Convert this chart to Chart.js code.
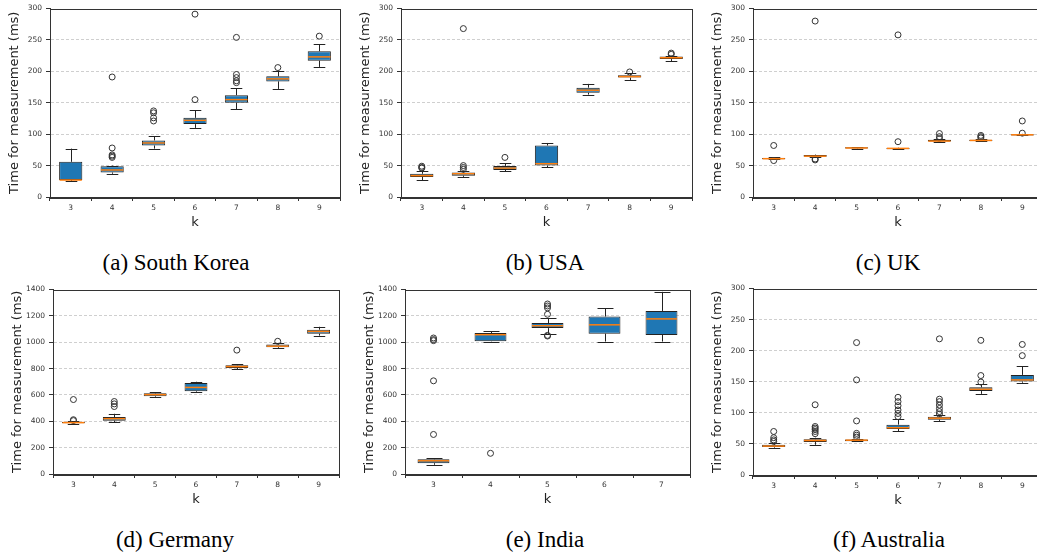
<!DOCTYPE html>
<html>
<head>
<meta charset="utf-8">
<script src="https://cdn.jsdelivr.net/npm/chart.js@4.4.1/dist/chart.umd.min.js"></script>
<style>
  html, body { margin: 0; padding: 0; background: #fff; overflow: hidden; }
  body { width: 1037px; height: 554px; position: relative; }
  .panel { position: absolute; }
  .caption {
    position: absolute; transform: translate(-50%, -50%);
    font-family: 'Liberation Serif', 'Times New Roman', serif; font-size: 23px;
    color: #000; white-space: nowrap;
  }
</style>
</head>
<body>
<div class="caption" style="left:176px; top:263px">(a) South Korea</div>
<div class="caption" style="left:545px; top:263px">(b) USA</div>
<div class="caption" style="left:888px; top:263px">(c) UK</div>
<div class="caption" style="left:175px; top:540px">(d) Germany</div>
<div class="caption" style="left:545px; top:540px">(e) India</div>
<div class="caption" style="left:889px; top:540px">(f) Australia</div>

<script>
const kLabels = ['3', '4', '5', '6', '7', '8', '9'];
const kLabelsIndia = ['3', '4', '5', '6', '7'];

// South Korea
const skLow  = [25, 37, 77, 110, 140, 172, 207];
const skQ1   = [27, 39, 82, 116, 150, 184, 217];
const skMed  = [27, 43, 86, 122, 155, 188, 223];
const skQ3   = [56, 49, 90, 126, 162, 192, 232];
const skHigh = [77, 50, 97, 138, 173, 201, 243];
const skOut  = [[], [191, 78, 67, 65, 63], [137, 134, 126, 121], [291, 155], [254, 195, 190, 185, 182], [206], [256]];

// USA
const usLow  = [27, 32, 41, 47, 163, 186, 216];
const usQ1   = [32, 34, 43, 50, 166, 190, 219.5];
const usMed  = [34, 37, 46, 53, 170, 191.6, 221.6];
const usQ3   = [37, 39, 49.5, 82, 174, 193.6, 223.7];
const usHigh = [42, 41, 54, 86, 180, 197, 225];
const usOut  = [[49, 47, 46], [268, 50, 47, 44], [63], [], [], [199], [229, 227]];

// UK
const ukLow  = [60, 63, 76.5, 76, 88, 89, 98];
const ukQ1   = [60, 64, 77, 76, 88.4, 89, 98];
const ukMed  = [61, 65, 78, 77.4, 89, 90, 99];
const ukQ3   = [62, 66.8, 79, 78, 91, 91, 100];
const ukHigh = [63, 67.5, 79.5, 78.5, 92, 92, 100.5];
const ukOut  = [[82, 58], [280, 60.5, 59], [], [258, 88], [101, 96, 93], [98, 96, 94], [121, 101.6]];

// Germany
const deLow  = [380, 395, 585, 620, 797, 955, 1050];
const deQ1   = [385, 405, 590, 627, 805, 962, 1065];
const deMed  = [390, 420, 602, 657, 815, 970, 1082];
const deQ3   = [395, 432, 612, 690, 825, 982, 1095];
const deHigh = [400, 457, 622, 700, 832, 995, 1117];
const deOut  = [[565, 412, 405], [550, 532, 512], [], [], [940], [1007], []];

// India
const inLow  = [70, 1005, 1065, 1005, 1005];
const inQ1   = [82, 1007, 1107, 1065, 1055];
const inMed  = [100, 1057, 1125, 1132, 1177];
const inQ3   = [112, 1070, 1145, 1195, 1237];
const inHigh = [120, 1082, 1182, 1257, 1382];
const inOut  = [[1032, 1020, 1012, 707, 300], [157], [1290, 1275, 1260, 1212, 1052, 1047], [], []];

// Australia
const auLow  = [44, 48.6, 54, 70.8, 87, 130.5, 148.4];
const auQ1   = [45, 53, 54.4, 74, 89, 135, 150.5];
const auMed  = [46.5, 55.5, 56, 76, 91.4, 138, 153];
const auQ3   = [48.6, 57.6, 57, 81, 93.5, 141, 161];
const auHigh = [51, 60, 58.6, 90, 96.7, 146, 175];
const auOut  = [[70, 60, 56.5, 54], [113, 78, 75.5, 73, 70, 66.5], [213, 153, 87, 67, 64, 61],
                [125, 118, 111.5, 104.6, 99, 94], [219, 122, 118, 112.5, 107, 102, 98], [216.6, 160, 149.5], [210, 192]];

const FONT = "'DejaVu Sans', sans-serif";

function makePanel(p)
{
    const div = document.createElement('div');
    div.className = 'panel';
    const w = p.w + 52, h = p.h + 40;
    div.style.left = (p.left - 50) + 'px';
    div.style.top = (p.top - 7) + 'px';
    div.style.width = w + 'px';
    div.style.height = h + 'px';
    const canvas = document.createElement('canvas');
    canvas.width = w;
    canvas.height = h;
    div.appendChild(canvas);
    document.body.appendChild(div);

    const outliers = [];
    p.out.forEach((vals, i) => vals.forEach(v => outliers.push({x: p.labels[i], y: v})));

    const boxPlugin = {
        id: 'boxExtras',
        beforeDatasetsDraw(chart) {
            const ctx = chart.ctx, xs = chart.scales.x, ys = chart.scales.y;
            const meta = chart.getDatasetMeta(0);
            ctx.save();
            ctx.strokeStyle = '#222';
            ctx.lineWidth = 1;
            p.labels.forEach((l, i) => {
                const x = Math.round(xs.getPixelForValue(i)) + 0.5;
                const half = meta.data[i].width / 4;
                const lines = [[p.q3[i], p.high[i]], [p.q1[i], p.low[i]]];
                lines.forEach(([from, to]) => {
                    const y1 = ys.getPixelForValue(from), y2 = ys.getPixelForValue(to);
                    ctx.beginPath();
                    ctx.moveTo(x, y1);
                    ctx.lineTo(x, y2);
                    ctx.moveTo(x - half, Math.round(y2) + 0.5);
                    ctx.lineTo(x + half, Math.round(y2) + 0.5);
                    ctx.stroke();
                });
            });
            ctx.restore();
        },
        afterDatasetsDraw(chart) {
            const ctx = chart.ctx, xs = chart.scales.x, ys = chart.scales.y;
            const meta = chart.getDatasetMeta(0);
            ctx.save();
            ctx.strokeStyle = '#ff7f0e';
            ctx.lineWidth = 1.5;
            p.labels.forEach((l, i) => {
                const x = xs.getPixelForValue(i);
                const half = meta.data[i].width / 2 - 0.5;
                const y = ys.getPixelForValue(p.med[i]);
                ctx.beginPath();
                ctx.moveTo(x - half, y);
                ctx.lineTo(x + half, y);
                ctx.stroke();
            });
            // frame
            const a = chart.chartArea;
            ctx.strokeStyle = '#333';
            ctx.lineWidth = 1;
            ctx.strokeRect(Math.round(a.left) + 0.5, Math.round(a.top) + 0.5,
                Math.round(a.right - a.left), Math.round(a.bottom - a.top));
            ctx.restore();
        }
    };

    new Chart(canvas.getContext('2d'), {
        type: 'bar',
        data: {
            labels: p.labels,
            datasets: [{
                type: 'bar',
                data: p.q1.map((v, i) => [v, p.q3[i]]),
                backgroundColor: '#1f77b4',
                borderColor: '#222',
                borderWidth: 1,
                borderSkipped: false,
                barPercentage: 0.56,
                categoryPercentage: 1,
                order: 2
            }, {
                type: 'scatter',
                data: outliers,
                pointRadius: 3,
                pointHoverRadius: 3,
                pointBorderWidth: 1,
                borderColor: '#333',
                backgroundColor: 'rgba(0,0,0,0)',
                order: 1
            }]
        },
        options: {
            responsive: false,
            animation: false,
            devicePixelRatio: 1,
            layout: { padding: { top: 7, right: 2, left: 0, bottom: 0 } },
            plugins: { legend: { display: false }, tooltip: { enabled: false } },
            scales: {
                x: {
                    type: 'category',
                    grid: { drawOnChartArea: false, tickLength: 4, tickColor: '#333' },
                    border: { color: '#333' },
                    ticks: { font: { family: FONT, size: 7.5 }, color: '#333', padding: 3 },
                    title: { display: true, text: 'k', font: { family: FONT, size: 13 }, color: '#222', padding: 0 },
                    afterFit: s => { s.height = 33; }
                },
                y: {
                    min: 0,
                    max: p.max,
                    grid: {
                        color: c => (c.tick && (c.tick.value === 0 || c.tick.value === p.max)) ? 'rgba(0,0,0,0)' : '#cfcfcf',
                        tickLength: 4,
                        tickColor: '#333',
                        tickBorderDash: []
                    },
                    border: { color: '#333', dash: [3, 2] },
                    ticks: {
                        stepSize: p.step, font: { family: FONT, size: 7.5 }, color: '#333', padding: 4,
                        callback: v => String(v)
                    },
                    title: {
                        display: true, text: 'Time for measurement (ms)',
                        font: { family: FONT, size: 13 }, color: '#222', padding: { top: 7, bottom: 0 }
                    },
                    afterFit: s => { s.width = 50; }
                }
            }
        },
        plugins: [boxPlugin]
    });
}

makePanel({ left: 50, top: 7, w: 292, h: 190, max: 300, step: 50, labels: kLabels,
    low: skLow, q1: skQ1, med: skMed, q3: skQ3, high: skHigh, out: skOut });
makePanel({ left: 401, top: 7, w: 293, h: 190, max: 300, step: 50, labels: kLabels,
    low: usLow, q1: usQ1, med: usMed, q3: usQ3, high: usHigh, out: usOut });
makePanel({ left: 753, top: 7, w: 292, h: 190, max: 300, step: 50, labels: kLabels,
    low: ukLow, q1: ukQ1, med: ukMed, q3: ukQ3, high: ukHigh, out: ukOut });
makePanel({ left: 53, top: 288, w: 288, h: 186, max: 1400, step: 200, labels: kLabels,
    low: deLow, q1: deQ1, med: deMed, q3: deQ3, high: deHigh, out: deOut });
makePanel({ left: 405, top: 288, w: 287, h: 186, max: 1400, step: 200, labels: kLabelsIndia,
    low: inLow, q1: inQ1, med: inMed, q3: inQ3, high: inHigh, out: inOut });
makePanel({ left: 753, top: 287, w: 292, h: 188, max: 300, step: 50, labels: kLabels,
    low: auLow, q1: auQ1, med: auMed, q3: auQ3, high: auHigh, out: auOut });
</script>
</body>
</html>
